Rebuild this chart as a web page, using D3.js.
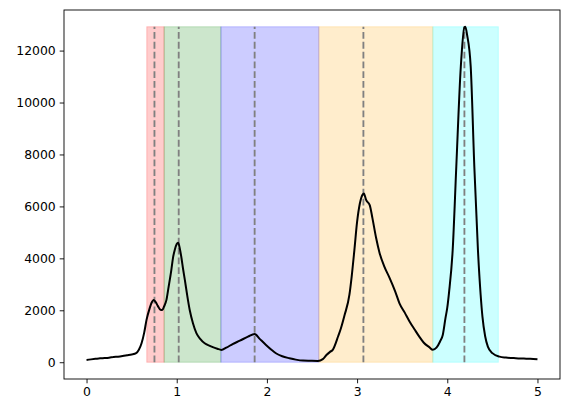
<!DOCTYPE html>
<html>
<head>
<meta charset="utf-8">
<script src="https://cdn.jsdelivr.net/npm/d3@7"></script>
<style>
  body { margin: 0; background: #fff; }
  svg { display: block; font-family: "DejaVu Sans", sans-serif; }
</style>
</head>
<body>
<script>
// curve (x, counts)
const xs = [0.00, 0.05, 0.10, 0.15, 0.20, 0.25, 0.30, 0.35, 0.40, 0.45, 0.50, 0.55, 0.58, 0.61, 0.64, 0.665,
  0.70, 0.72, 0.745, 0.77, 0.79, 0.82, 0.84, 0.86, 0.886, 0.91, 0.94, 0.96, 0.978, 1.00, 1.015, 1.03, 1.05,
  1.07, 1.09, 1.115, 1.144, 1.18, 1.218, 1.26, 1.31, 1.36, 1.40, 1.45, 1.495, 1.55, 1.62, 1.70, 1.79, 1.864,
  1.92, 1.99, 2.05, 2.10, 2.17, 2.25, 2.32, 2.40, 2.48, 2.565, 2.62, 2.66, 2.70, 2.73, 2.79, 2.82, 2.86, 2.915,
  2.94, 2.97, 3.00, 3.03, 3.06, 3.075, 3.10, 3.14, 3.17, 3.21, 3.25, 3.30, 3.36, 3.42, 3.47, 3.53, 3.58, 3.64,
  3.69, 3.74, 3.80, 3.84, 3.88, 3.92, 3.95, 3.98, 4.00, 4.02, 4.06, 4.10, 4.15, 4.19, 4.20, 4.22, 4.26, 4.30,
  4.34, 4.37, 4.39, 4.42, 4.45, 4.50, 4.58, 4.65, 4.76, 4.85, 4.92, 5.00]
const counts = [90, 110, 130, 150, 160, 175, 200, 215, 240, 270, 300, 350, 480, 730, 1150, 1630,
  2080, 2280, 2400, 2300, 2170, 2020, 2010, 2150, 2400, 2900, 3550, 4050, 4320, 4550, 4600, 4450, 4070,
  3600, 3170, 2600, 2010, 1500, 1120, 900, 730, 640, 580, 520, 475, 560, 700, 830, 985, 1090,
  900, 665, 480, 346, 230, 154, 100, 62, 55, 50, 120, 280, 400, 475, 1000, 1300, 1800, 2600,
  3300, 4320, 5400, 6100, 6450, 6500, 6250, 6050, 5550, 4800, 4200, 3700, 3250, 2750, 2270, 1900, 1580, 1250,
  985, 750, 580, 480, 560, 800, 1050, 1700, 2100, 2700, 4320, 7530, 11380, 12900, 12917, 12600, 11380, 7530,
  4320, 2600, 1755, 1000, 600, 350, 215, 180, 154, 140, 130, 110]

// shaded bands and peak markers
const bandStart = [0.668, 0.86, 1.49, 2.576, 3.84]
const bandEnd = [0.86, 1.49, 2.576, 3.84, 4.566]
const bandColors = ['red', 'green', 'blue', 'orange', 'cyan']
const peaks = [0.753, 1.022, 1.864, 3.07, 4.19]

const xTicks = [0, 1, 2, 3, 4, 5]
const yTicks = [0, 2000, 4000, 6000, 8000, 10000, 12000]

const w = 570
const h = 413
const margin = {top: 10, right: 10, bottom: 34, left: 64}

const svg = d3.select('body')
    .append('svg')
    .attr('width', w)
    .attr('height', h)

const yMax = d3.max(counts)
const x = d3.scaleLinear()
    .domain([-0.25, 5.25])
    .range([margin.left, w - margin.right])
const y = d3.scaleLinear()
    .domain([-0.05 * yMax, 1.05 * yMax])
    .range([h - margin.bottom, margin.top])

// bands
svg.selectAll('rect.band')
    .data(bandStart)
    .enter()
    .append('rect')
    .attr('class', 'band')
    .attr('x', (d) => x(d))
    .attr('y', y(yMax))
    .attr('width', (d, i) => x(bandEnd[i]) - x(d))
    .attr('height', y(0) - y(yMax))
    .attr('fill', (d, i) => bandColors[i])
    .attr('fill-opacity', 0.2)
    .attr('stroke', (d, i) => bandColors[i])
    .attr('stroke-opacity', 0.2)
    .attr('stroke-width', 1)

// peak markers
svg.selectAll('line.peak')
    .data(peaks)
    .enter()
    .append('line')
    .attr('class', 'peak')
    .attr('x1', (d) => x(d))
    .attr('x2', (d) => x(d))
    .attr('y1', y(0))
    .attr('y2', y(yMax))
    .attr('stroke', 'gray')
    .attr('stroke-width', 1.85)
    .attr('stroke-dasharray', '6.8,3')

const line = d3.line()
    .x((d, i) => x(xs[i]))
    .y((d) => y(d))
    .curve(d3.curveMonotoneX)

svg.append('path')
    .datum(counts)
    .attr('d', line)
    .attr('fill', 'none')
    .attr('stroke', 'black')
    .attr('stroke-width', 2)
    .attr('stroke-linejoin', 'round')

// axes
const xAxis = d3.axisBottom(x)
    .tickValues(xTicks)
    .tickFormat(d3.format('d'))
    .tickSize(4.3)
    .tickPadding(4)
const yAxis = d3.axisLeft(y)
    .tickValues(yTicks)
    .tickFormat(d3.format('d'))
    .tickSize(4.3)
    .tickPadding(4)

const gx = svg.append('g')
    .attr('transform', `translate(0, ${h - margin.bottom})`)
    .call(xAxis)
const gy = svg.append('g')
    .attr('transform', `translate(${margin.left}, 0)`)
    .call(yAxis)

for (const g of [gx, gy]) {
    g.select('.domain').remove()
    g.selectAll('.tick line').attr('stroke', 'black').attr('stroke-width', 0.9)
    g.selectAll('.tick text')
        .attr('fill', 'black')
        .style('font-size', '12.4px')
        .style('font-family', '"DejaVu Sans", sans-serif')
}

// frame
svg.append('rect')
    .attr('x', margin.left)
    .attr('y', margin.top)
    .attr('width', w - margin.left - margin.right)
    .attr('height', h - margin.top - margin.bottom)
    .attr('fill', 'none')
    .attr('stroke', 'black')
    .attr('stroke-width', 0.9)
</script>
</body>
</html>
